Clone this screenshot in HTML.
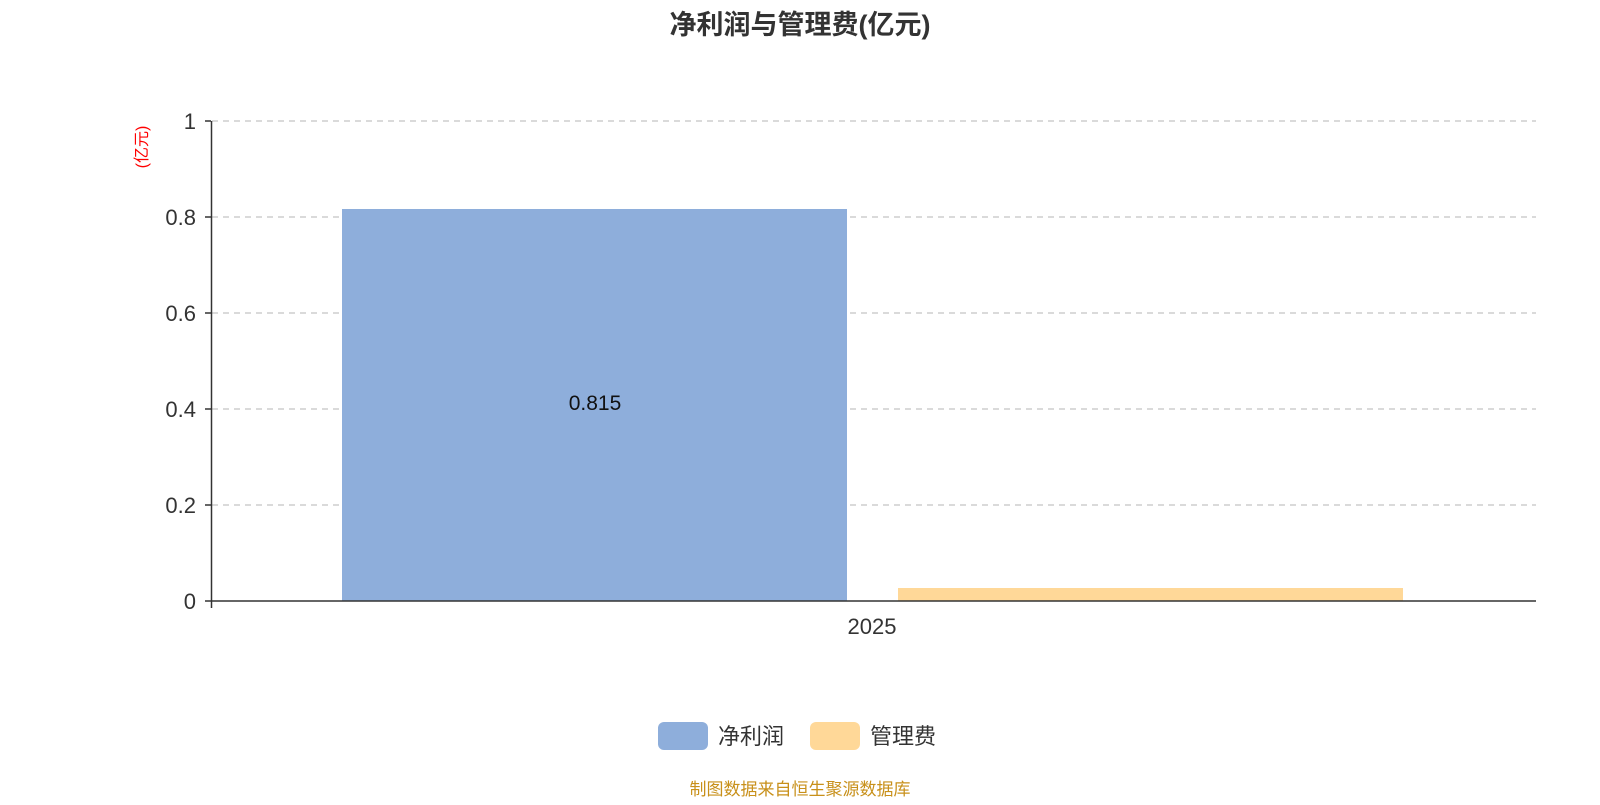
<!DOCTYPE html>
<html><head><meta charset="utf-8"><style>body{margin:0;background:#fff}</style></head><body>
<svg width="1600" height="800" xmlns="http://www.w3.org/2000/svg" font-family="'Liberation Sans','Noto Sans CJK SC',sans-serif">
<text x="800" y="34" text-anchor="middle" font-size="27" font-weight="bold" fill="#333">净利润与管理费(亿元)</text>
<g stroke="#c4c4c4" stroke-dasharray="6,5" stroke-width="1.2">
<line x1="212" y1="121" x2="1536" y2="121"/><line x1="212" y1="217" x2="1536" y2="217"/><line x1="212" y1="313" x2="1536" y2="313"/><line x1="212" y1="409" x2="1536" y2="409"/><line x1="212" y1="505" x2="1536" y2="505"/>
</g>
<rect x="342" y="209" width="505" height="392" fill="#8eaedb"/>
<rect x="898" y="588" width="505" height="13" fill="#ffd898"/>
<g stroke="#333" stroke-width="1.5">
<line x1="211.5" y1="121" x2="211.5" y2="608"/><line x1="211" y1="601" x2="1536" y2="601"/>
<line x1="205" y1="121" x2="211" y2="121"/><line x1="205" y1="217" x2="211" y2="217"/><line x1="205" y1="313" x2="211" y2="313"/><line x1="205" y1="409" x2="211" y2="409"/><line x1="205" y1="505" x2="211" y2="505"/><line x1="205" y1="601" x2="211" y2="601"/>
</g>
<g font-size="22" fill="#333" text-anchor="end">
<text x="196" y="129">1</text><text x="196" y="225">0.8</text><text x="196" y="321">0.6</text><text x="196" y="417">0.4</text><text x="196" y="513">0.2</text><text x="196" y="609">0</text>
</g>
<text transform="translate(147,147) rotate(-90)" text-anchor="middle" font-size="16" fill="red">(亿元)</text>
<text x="595" y="410" text-anchor="middle" font-size="21" fill="#111">0.815</text>
<text x="872" y="634" text-anchor="middle" font-size="22" fill="#333">2025</text>
<rect x="658" y="722" width="50" height="28" rx="6" fill="#8eaedb"/>
<text x="718" y="744" font-size="22" fill="#333">净利润</text>
<rect x="810" y="722" width="50" height="28" rx="6" fill="#ffd898"/>
<text x="870" y="744" font-size="22" fill="#333">管理费</text>
<text x="800" y="795" text-anchor="middle" font-size="17" fill="#c8901a">制图数据来自恒生聚源数据库</text>
</svg>
</body></html>
